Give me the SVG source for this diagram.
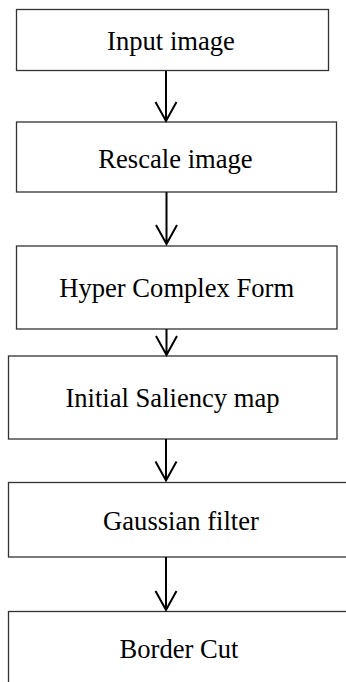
<svg xmlns="http://www.w3.org/2000/svg" width="346" height="682" viewBox="0 0 346 682">
<style>
.box{fill:#fff;stroke:#333;stroke-width:1.3}
.lbl{font-family:"Liberation Serif","Times New Roman",serif;font-size:26.6px;fill:#000;text-anchor:middle}
.conn{fill:none;stroke:#000;stroke-width:2;stroke-linejoin:miter}
</style>
<rect width="346" height="682" fill="#fff"/>
<g id="n1"><rect class="box" x="16.5" y="9.5" width="312" height="61"/><text class="lbl" x="171" y="50">Input image</text></g>
<g id="n2"><rect class="box" x="16.5" y="122" width="320" height="70"/><text class="lbl" x="175.5" y="168">Rescale image</text></g>
<g id="n3"><rect class="box" x="16.5" y="246" width="320.5" height="83"/><text class="lbl" x="176.7" y="297">Hyper Complex Form</text></g>
<g id="n4"><rect class="box" x="8.5" y="356" width="328.5" height="83"/><text class="lbl" x="172.5" y="407">Initial Saliency map</text></g>
<g id="n5"><rect class="box" x="8.5" y="482.5" width="350" height="74.5"/><text class="lbl" x="181" y="530">Gaussian filter</text></g>
<g id="n6"><rect class="box" x="8.5" y="611.5" width="350" height="90"/><text class="lbl" x="179" y="658">Border Cut</text></g>
<g id="connectors">
<path class="conn" d="M166 71V121M155.5 102L166 121L176.5 102"/>
<path class="conn" d="M166.5 192V244M156 225L166.5 244L177 225"/>
<path class="conn" d="M166.5 329V355M156 336L166.5 355L177 336"/>
<path class="conn" d="M166 439V480.5M155.5 461.5L166 480.5L176.5 461.5"/>
<path class="conn" d="M166 557V610M155.5 591L166 610L176.5 591"/>
</g>
</svg>
